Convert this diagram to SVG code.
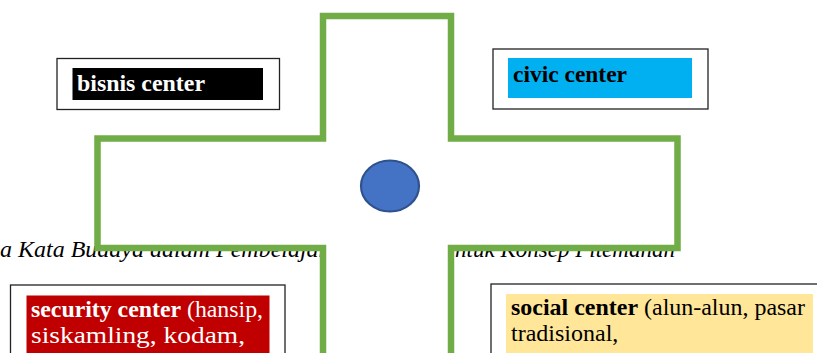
<svg xmlns="http://www.w3.org/2000/svg" width="817" height="353" viewBox="0 0 817 353">
<style>
.box{fill:#fff;stroke:#222;stroke-width:1.3}
.t{font-family:"Liberation Serif","Times New Roman",serif;font-size:24px}
.b{font-weight:bold}
.cap{font-family:"Liberation Serif","Times New Roman",serif;font-size:24px;font-style:italic;fill:#000}
</style>
<rect width="817" height="353" fill="#fff"/>
<g id="caption">
<text class="cap" x="0" y="257">a Kata Budaya dalam Pembelajaran</text>
<text class="cap" x="455" y="257" textLength="220" lengthAdjust="spacingAndGlyphs">ntuk Konsep Pitemanan</text>
</g>
<g id="cross">
<path d="M323,16 H451 V138.5 H677.5 V248 H451 V360 H323 V248 H97.5 V138.5 H323 Z" fill="#fff" stroke="none"/>
<path d="M323,360 V248 H97.5 V138.5 H323 V16 H451 V138.5 H677.5 V248 H451 V360" fill="none" stroke="#70AD47" stroke-width="6.5"/>
</g>
<g id="center">
<ellipse cx="390" cy="186" rx="29" ry="25.5" fill="#4472C4" stroke="#2F528F" stroke-width="2.2"/>
</g>
<g id="bisnis">
<rect class="box" x="57" y="58.5" width="222.5" height="51"/>
<rect x="72.5" y="68" width="190.5" height="32" fill="#000"/>
<text class="t b" x="77" y="91" fill="#fff" textLength="128" lengthAdjust="spacingAndGlyphs">bisnis center</text>
</g>
<g id="civic">
<rect class="box" x="493" y="49" width="215" height="60"/>
<rect x="508" y="58" width="184" height="40" fill="#00B0F0"/>
<text class="t b" x="513" y="81.5" fill="#000" textLength="114" lengthAdjust="spacingAndGlyphs">civic center</text>
</g>
<g id="security">
<rect class="box" x="10.5" y="285" width="274.5" height="80"/>
<rect x="26.5" y="295.5" width="243" height="70" fill="#C00000"/>
<text class="t" x="31" y="317" fill="#fff" textLength="232" lengthAdjust="spacingAndGlyphs"><tspan class="b">security center</tspan> (hansip,</text>
<text class="t" x="31" y="343" fill="#fff" textLength="214" lengthAdjust="spacingAndGlyphs">siskamling, kodam,</text>
</g>
<g id="social">
<rect class="box" x="491" y="284" width="340" height="80"/>
<rect x="506" y="294" width="307" height="70" fill="#FFE699"/>
<text class="t" x="511" y="315" fill="#000" textLength="294" lengthAdjust="spacingAndGlyphs"><tspan class="b">social center</tspan> (alun-alun, pasar</text>
<text class="t" x="511" y="341" fill="#000">tradisional,</text>
</g>
</svg>
